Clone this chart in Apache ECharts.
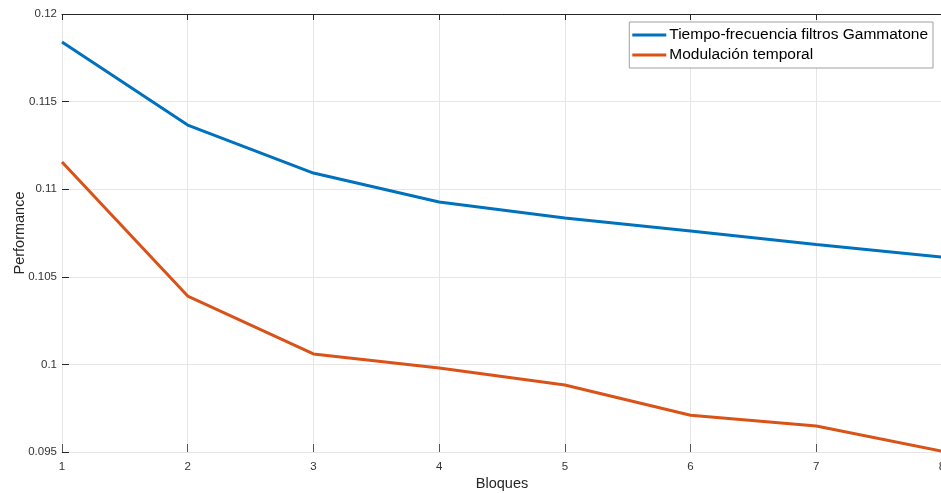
<!DOCTYPE html>
<html>
<head>
<meta charset="utf-8">
<style>
  html, body { margin: 0; padding: 0; background: #fff; }
  #chart { width: 941px; height: 493px; }
</style>
<script src="https://cdn.jsdelivr.net/npm/echarts@6/dist/echarts.min.js"></script>
</head>
<body>
<div id="chart"></div>
<script>
// Number of blocks on the x axis
const bloques = [1, 2, 3, 4, 5, 6, 7, 8];
// Performance per feature type
const gammatone = [0.1184, 0.11366, 0.11092, 0.10927, 0.10836, 0.10761, 0.10684, 0.10613];
const modulacion = [0.11155, 0.1039, 0.1006, 0.0998, 0.09882, 0.0971, 0.09648, 0.09505];
const seriesNames = ['Tiempo-frecuencia filtros Gammatone', 'Modulación temporal'];

const chart = echarts.init(document.getElementById('chart'));
const font = 'Liberation Sans, Arial, sans-serif';

chart.setOption({
  animation: false,
  backgroundColor: '#fff',
  grid: { left: 62, right: -1, top: 14, bottom: 41, outerBoundsMode: 'none', containLabel: false },
  legend: {
    orient: 'vertical',
    right: 8,
    top: 22,
    data: seriesNames,
    icon: 'rect',
    itemWidth: 34,
    itemHeight: 3,
    itemGap: 4,
    padding: [5, 5, 5, 3],
    backgroundColor: '#fff',
    borderColor: '#a0a0a0',
    borderWidth: 1,
    textStyle: { fontFamily: font, fontSize: 15.5, color: '#000', padding: [0, 0, 0, -2] }
  },
  xAxis: [{
    type: 'value',
    min: 1,
    max: 8,
    interval: 1,
    name: 'Bloques',
    nameLocation: 'middle',
    nameGap: 24,
    nameMoveOverlap: false,
    nameTextStyle: { fontFamily: font, fontSize: 14.5, color: '#262626' },
    axisLine: { show: true, lineStyle: { color: '#e6e6e6', width: 1 } },
    axisTick: { show: true, inside: true, length: 8, lineStyle: { color: '#555' } },
    axisLabel: { fontFamily: font, fontSize: 11.5, color: '#333', margin: 9 },
    splitLine: { show: true, lineStyle: { color: '#e6e6e6' } }
  }, {
    type: 'value',
    position: 'top',
    min: 1,
    max: 8,
    interval: 1,
    axisLine: { show: true, lineStyle: { color: '#262626', width: 1 } },
    axisTick: { show: true, inside: true, length: 6, lineStyle: { color: '#262626' } },
    axisLabel: { show: false },
    splitLine: { show: false }
  }],
  yAxis: {
    type: 'value',
    min: 0.095,
    max: 0.12,
    interval: 0.005,
    name: 'Performance',
    nameLocation: 'middle',
    nameGap: 35,
    nameMoveOverlap: false,
    nameTextStyle: { fontFamily: font, fontSize: 14.5, color: '#262626' },
    axisLine: { show: false },
    axisTick: { show: true, inside: true, length: 7, lineStyle: { color: '#262626' } },
    axisLabel: { fontFamily: font, fontSize: 11.5, color: '#333', margin: 5 },
    splitLine: { show: true, lineStyle: { color: '#e6e6e6' } }
  },
  series: [{
    name: seriesNames[0],
    type: 'line',
    data: bloques.map((b, i) => [b, gammatone[i]]),
    showSymbol: false,
    lineStyle: { color: '#0072BD', width: 3 },
    itemStyle: { color: '#0072BD' }
  }, {
    name: seriesNames[1],
    type: 'line',
    data: bloques.map((b, i) => [b, modulacion[i]]),
    showSymbol: false,
    lineStyle: { color: '#D95319', width: 3 },
    itemStyle: { color: '#D95319' }
  }]
});
</script>
</body>
</html>
